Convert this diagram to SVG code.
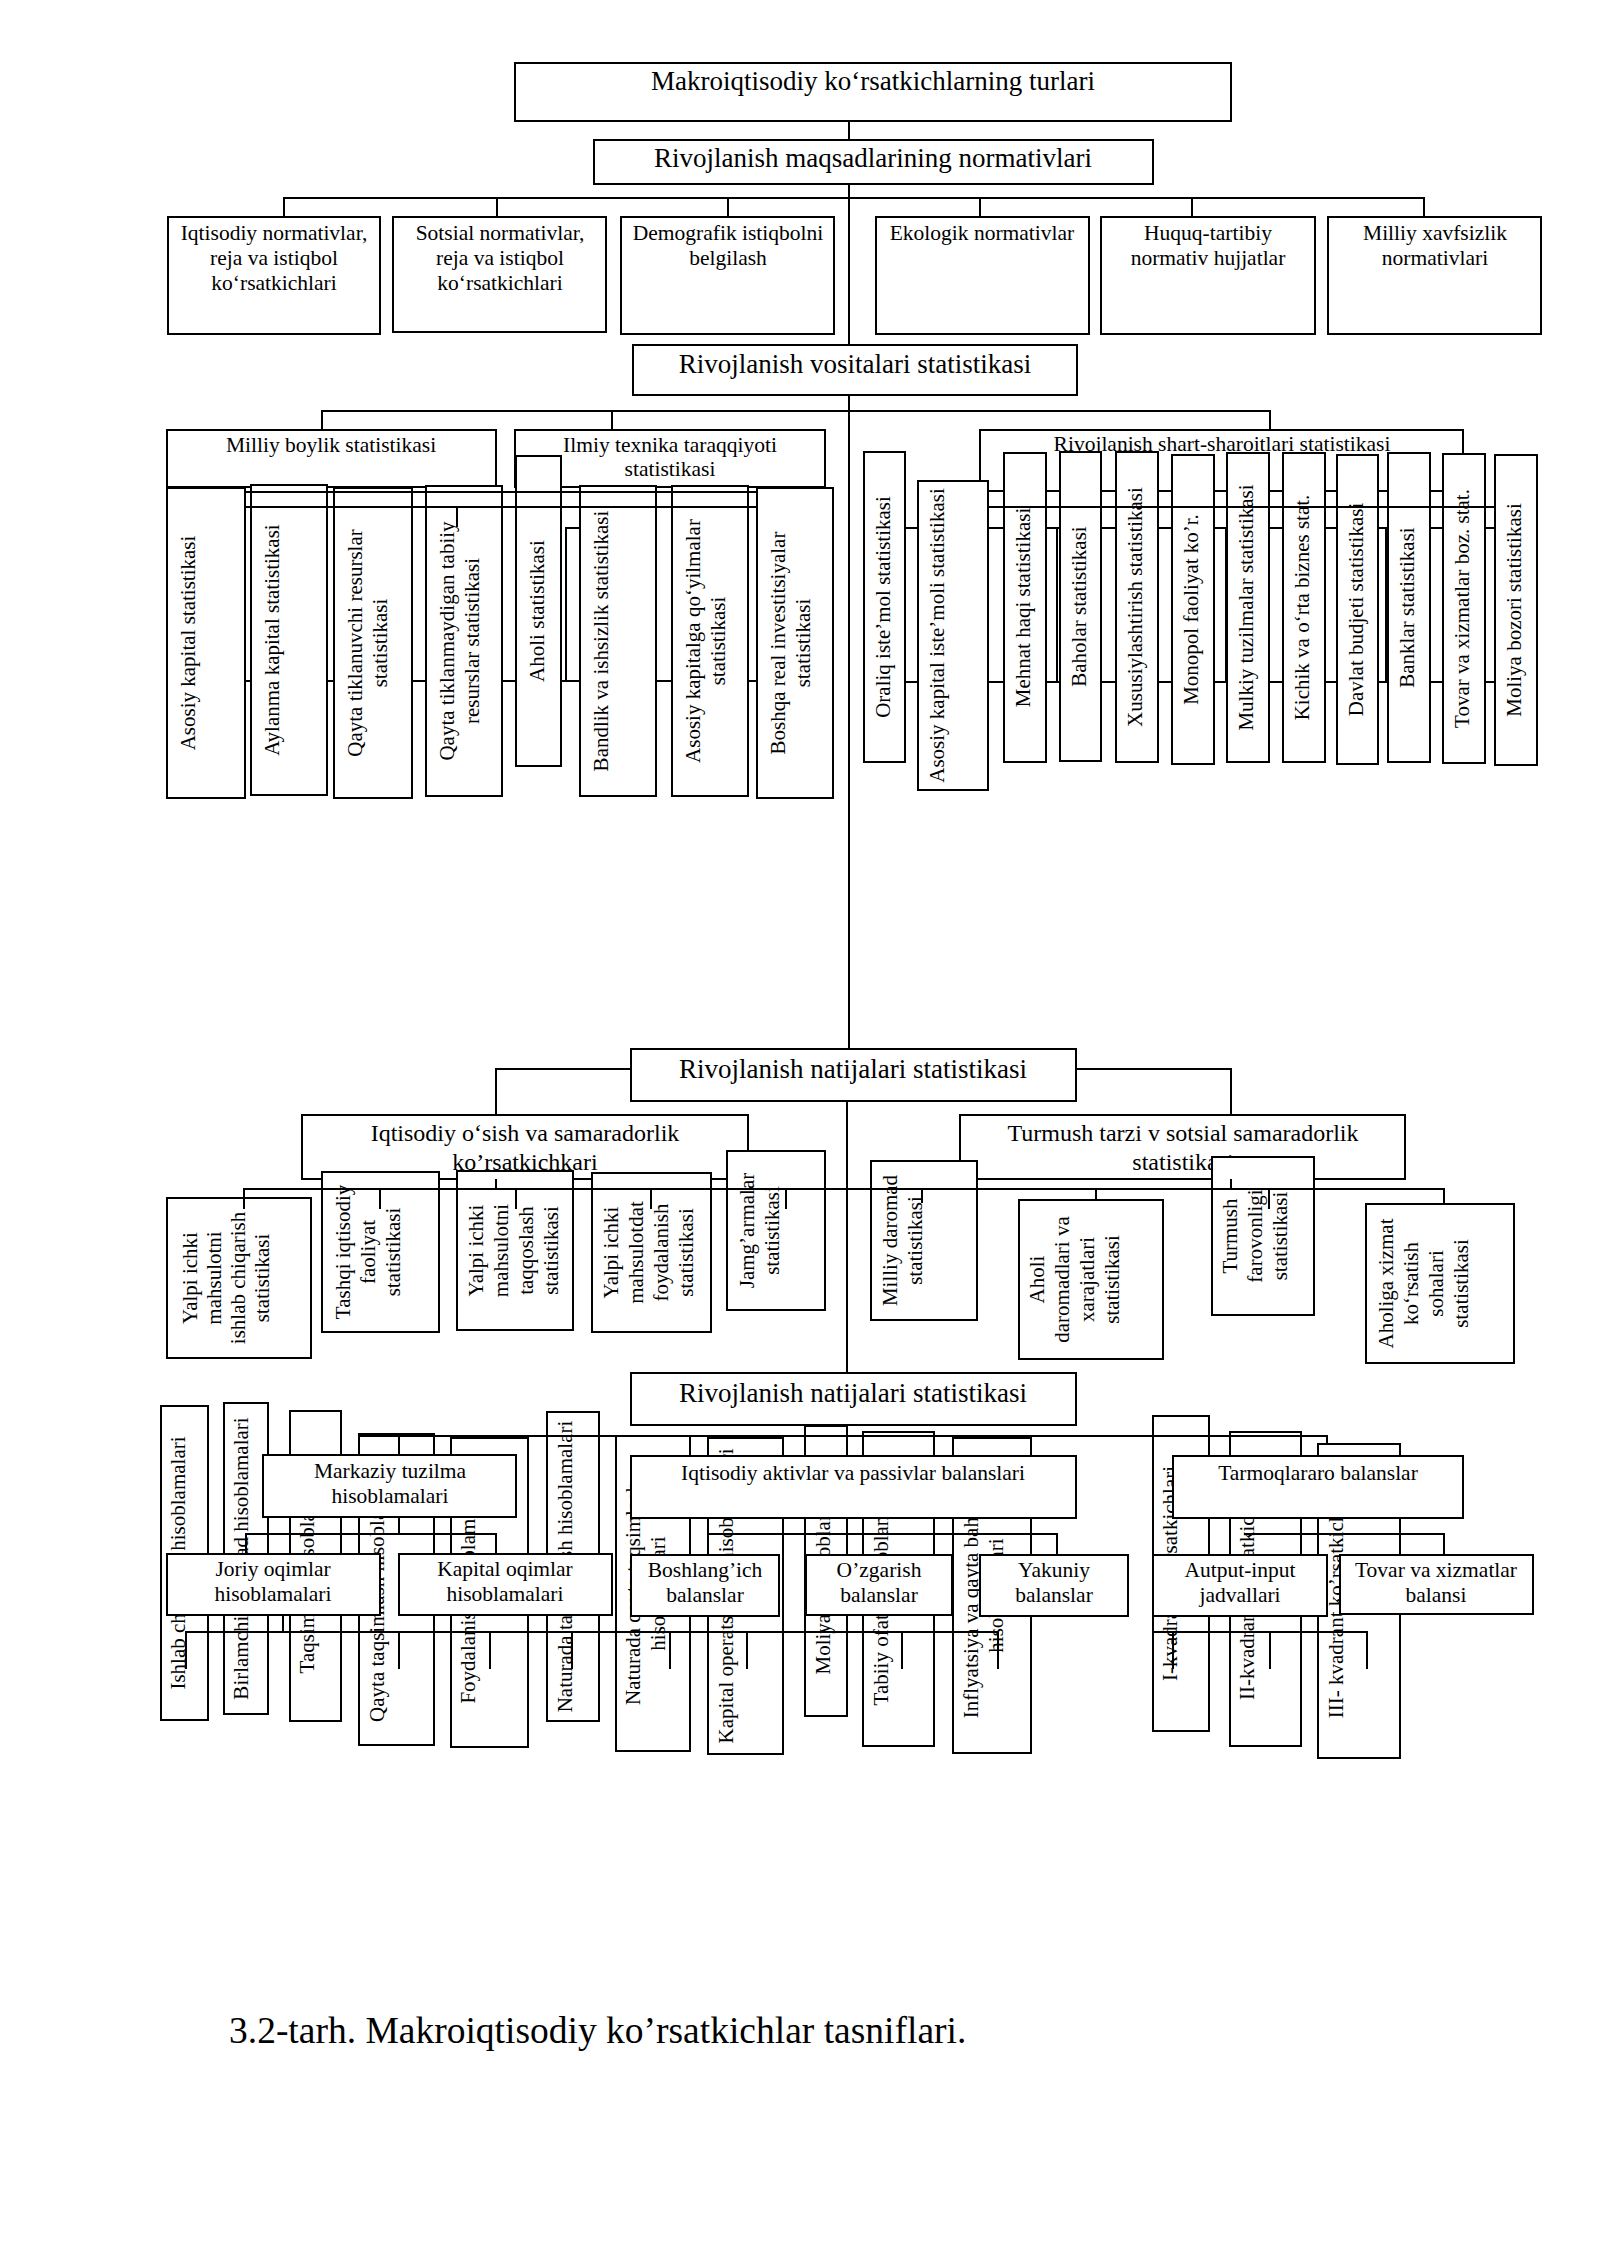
<svg xmlns="http://www.w3.org/2000/svg" width="1600" height="2262" viewBox="0 0 1600 2262">
<style>
text { font-family: "Liberation Serif", "Times New Roman", serif; fill: #000; }
.h1 { font-size: 27px; text-anchor: middle; }
.h2 { font-size: 24px; text-anchor: middle; }
.s { font-size: 21.5px; text-anchor: middle; }
.v { font-size: 21px; text-anchor: middle; }
.cap { font-size: 37.5px; }
.box { fill: #fff; stroke: #000; stroke-width: 2; }
.ln { fill: none; stroke: #000; stroke-width: 2; }
</style>
<rect x="0" y="0" width="1600" height="2262" fill="#fff"/>

<g id="connectors-back" class="ln">
  <path d="M849 121V140M849 184V345M284 217V198H1424V217M497 198V217M728 198V217M980 198V217M1192 198V217"/>
  <path d="M849 395V1049M322 430V411H1270V430M612 411V430"/>
  <path d="M245 681H757M566 681V528H580"/>
  <path d="M905 528H1495M905 682H1495M1057 528V682M1226 528V682M1386 528V682"/>
  <path d="M631 1069H496V1115M1076 1069H1231V1115M847 1101V1373M847 1425V1456"/>
</g>

<g id="n-top"><rect class="box" x="515" y="63" width="716" height="58"/><text class="h1" x="873" y="90">Makroiqtisodiy ko‘rsatkichlarning turlari</text></g>
<g id="n-maqsad"><rect class="box" x="594" y="140" width="559" height="44"/><text class="h1" x="873" y="167">Rivojlanish maqsadlarining normativlari</text></g>

<g id="n-iqt-norm"><rect class="box" x="168" y="217" width="212" height="117"/><text class="s" y="240"><tspan x="274">Iqtisodiy normativlar,</tspan><tspan x="274" y="265">reja va istiqbol</tspan><tspan x="274" y="290">ko‘rsatkichlari</tspan></text></g>
<g id="n-sots-norm"><rect class="box" x="393" y="217" width="213" height="115"/><text class="s" y="240"><tspan x="500">Sotsial normativlar,</tspan><tspan x="500" y="265">reja va istiqbol</tspan><tspan x="500" y="290">ko‘rsatkichlari</tspan></text></g>
<g id="n-demo"><rect class="box" x="621" y="217" width="213" height="117"/><text class="s" y="240"><tspan x="728">Demografik istiqbolni</tspan><tspan x="728" y="265">belgilash</tspan></text></g>
<g id="n-eko"><rect class="box" x="876" y="217" width="213" height="117"/><text class="s" x="982" y="240">Ekologik normativlar</text></g>
<g id="n-huquq"><rect class="box" x="1101" y="217" width="214" height="117"/><text class="s" y="240"><tspan x="1208">Huquq-tartibiy</tspan><tspan x="1208" y="265">normativ hujjatlar</tspan></text></g>
<g id="n-xavf"><rect class="box" x="1328" y="217" width="213" height="117"/><text class="s" y="240"><tspan x="1435">Milliy xavfsizlik</tspan><tspan x="1435" y="265">normativlari</tspan></text></g>

<g id="n-vosita"><rect class="box" x="633" y="345" width="444" height="50"/><text class="h1" x="855" y="373">Rivojlanish vositalari statistikasi</text></g>

<g id="n-milliy-boylik"><rect class="box" x="167" y="430" width="329" height="57"/><text class="s" x="331" y="452">Milliy boylik statistikasi</text></g>
<g id="n-ilmiy"><rect class="box" x="515" y="430" width="310" height="57"/><text class="s" y="452"><tspan x="670">Ilmiy texnika taraqqiyoti</tspan><tspan x="670" y="476">statistikasi</tspan></text></g>
<g id="n-shart"><rect class="box" x="980" y="430" width="483" height="61"/><text class="s" x="1222" y="451">Rivojlanish shart-sharoitlari statistikasi</text></g>

<g id="n-l1"><rect class="box" x="167" y="488" width="78" height="310"/><text class="v" transform="translate(195,643) rotate(-90)">Asosiy kapital statistikasi</text></g>
<g id="n-l2"><rect class="box" x="251" y="485" width="76" height="310"/><text class="v" transform="translate(279,640) rotate(-90)">Aylanma kapital statistikasi</text></g>
<g id="n-l3"><rect class="box" x="334" y="488" width="78" height="310"/><text class="v" transform="translate(362,643) rotate(-90)"><tspan x="0" y="0">Qayta tiklanuvchi resurslar</tspan><tspan x="0" y="25">statistikasi</tspan></text></g>
<g id="n-l4"><rect class="box" x="426" y="486" width="76" height="310"/><text class="v" transform="translate(454,641) rotate(-90)"><tspan x="0" y="0">Qayta tiklanmaydigan tabiiy</tspan><tspan x="0" y="25">resurslar statistikasi</tspan></text></g>
<g id="n-l5"><rect class="box" x="516" y="456" width="45" height="310"/><text class="v" transform="translate(544,611) rotate(-90)">Aholi statistikasi</text></g>
<g id="n-l6"><rect class="box" x="580" y="486" width="76" height="310"/><text class="v" transform="translate(608,641) rotate(-90)">Bandlik va ishsizlik statistikasi</text></g>
<g id="n-l7"><rect class="box" x="672" y="486" width="76" height="310"/><text class="v" transform="translate(700,641) rotate(-90)"><tspan x="0" y="0">Asosiy kapitalga qo‘yilmalar</tspan><tspan x="0" y="25">statistikasi</tspan></text></g>
<g id="n-l8"><rect class="box" x="757" y="488" width="76" height="310"/><text class="v" transform="translate(785,643) rotate(-90)"><tspan x="0" y="0">Boshqa real investitsiyalar</tspan><tspan x="0" y="25">statistikasi</tspan></text></g>

<g id="n-r1"><rect class="box" x="864" y="452" width="41" height="310"/><text class="v" transform="translate(890,607) rotate(-90)">Oraliq iste’mol statistikasi</text></g>
<g id="n-r2"><rect class="box" x="918" y="481" width="70" height="309"/><text class="v" transform="translate(944,635.5) rotate(-90)">Asosiy kapital iste’moli statistikasi</text></g>
<g id="n-r3"><rect class="box" x="1004" y="453" width="42" height="309"/><text class="v" transform="translate(1030,607.5) rotate(-90)">Mehnat haqi statistikasi</text></g>
<g id="n-r4"><rect class="box" x="1060" y="452" width="41" height="309"/><text class="v" transform="translate(1086,606.5) rotate(-90)">Baholar statistikasi</text></g>
<g id="n-r5"><rect class="box" x="1116" y="452" width="42" height="310"/><text class="v" transform="translate(1142,607) rotate(-90)">Xususiylashtirish statistikasi</text></g>
<g id="n-r6"><rect class="box" x="1172" y="455" width="42" height="309"/><text class="v" transform="translate(1198,609.5) rotate(-90)">Monopol faoliyat ko’r.</text></g>
<g id="n-r7"><rect class="box" x="1227" y="453" width="42" height="309"/><text class="v" transform="translate(1253,607.5) rotate(-90)">Mulkiy tuzilmalar statistikasi</text></g>
<g id="n-r8"><rect class="box" x="1283" y="453" width="42" height="309"/><text class="v" transform="translate(1309,607.5) rotate(-90)">Kichik va o‘rta biznes stat.</text></g>
<g id="n-r9"><rect class="box" x="1337" y="455" width="41" height="309"/><text class="v" transform="translate(1363,609.5) rotate(-90)">Davlat budjeti statistikasi</text></g>
<g id="n-r10"><rect class="box" x="1388" y="453" width="42" height="309"/><text class="v" transform="translate(1414,607.5) rotate(-90)">Banklar statistikasi</text></g>
<g id="n-r11"><rect class="box" x="1443" y="454" width="42" height="309"/><text class="v" transform="translate(1469,608.5) rotate(-90)">Tovar va xizmatlar boz. stat.</text></g>
<g id="n-r12"><rect class="box" x="1495" y="455" width="42" height="310"/><text class="v" transform="translate(1521,610) rotate(-90)">Moliya bozori statistikasi</text></g>

<g id="n-natija1"><rect class="box" x="631" y="1049" width="445" height="52"/><text class="h1" x="853" y="1078">Rivojlanish natijalari statistikasi</text></g>
<g id="n-osish"><rect class="box" x="302" y="1115" width="446" height="64"/><text class="h2" y="1141"><tspan x="525">Iqtisodiy o‘sish va samaradorlik</tspan><tspan x="525" y="1170">ko’rsatkichkari</tspan></text></g>
<g id="n-turmush"><rect class="box" x="960" y="1115" width="445" height="64"/><text class="h2" y="1141"><tspan x="1183">Turmush tarzi v sotsial samaradorlik</tspan><tspan x="1183" y="1170">statistikasi</tspan></text></g>

<g id="n-m1"><rect class="box" x="167" y="1198" width="144" height="160"/><text class="v" transform="translate(197,1278) rotate(-90)"><tspan x="0" y="0">Yalpi ichki</tspan><tspan x="0" y="24">mahsulotni</tspan><tspan x="0" y="48">ishlab chiqarish</tspan><tspan x="0" y="72">statistikasi</tspan></text></g>
<g id="n-m2"><rect class="box" x="322" y="1172" width="117" height="160"/><text class="v" transform="translate(350,1252) rotate(-90)"><tspan x="0" y="0">Tashqi iqtisodiy</tspan><tspan x="0" y="25">faoliyat</tspan><tspan x="0" y="50">statistikasi</tspan></text></g>
<g id="n-m3"><rect class="box" x="457" y="1171" width="116" height="159"/><text class="v" transform="translate(483,1250.5) rotate(-90)"><tspan x="0" y="0">Yalpi ichki</tspan><tspan x="0" y="25">mahsulotni</tspan><tspan x="0" y="50">taqqoslash</tspan><tspan x="0" y="75">statistikasi</tspan></text></g>
<g id="n-m4"><rect class="box" x="592" y="1173" width="119" height="159"/><text class="v" transform="translate(618,1252.5) rotate(-90)"><tspan x="0" y="0">Yalpi ichki</tspan><tspan x="0" y="25">mahsulotdat</tspan><tspan x="0" y="50">foydalanish</tspan><tspan x="0" y="75">statistikasi</tspan></text></g>
<g id="n-m5"><rect class="box" x="727" y="1151" width="98" height="159"/><text class="v" transform="translate(754,1230.5) rotate(-90)"><tspan x="0" y="0">Jamg’armalar</tspan><tspan x="0" y="25">statistikasi</tspan></text></g>
<g id="n-m6"><rect class="box" x="871" y="1161" width="106" height="159"/><text class="v" transform="translate(897,1240.5) rotate(-90)"><tspan x="0" y="0">Milliy daromad</tspan><tspan x="0" y="25">statistikasi</tspan></text></g>
<g id="n-m7"><rect class="box" x="1019" y="1200" width="144" height="159"/><text class="v" transform="translate(1044,1279.5) rotate(-90)"><tspan x="0" y="0">Aholi</tspan><tspan x="0" y="25">daromadlari va</tspan><tspan x="0" y="50">xarajatlari</tspan><tspan x="0" y="75">statistikasi</tspan></text></g>
<g id="n-m8"><rect class="box" x="1212" y="1157" width="102" height="158"/><text class="v" transform="translate(1237,1236) rotate(-90)"><tspan x="0" y="0">Turmush</tspan><tspan x="0" y="25">farovonligi</tspan><tspan x="0" y="50">statistikasi</tspan></text></g>
<g id="n-m9"><rect class="box" x="1366" y="1204" width="148" height="159"/><text class="v" transform="translate(1393,1283.5) rotate(-90)"><tspan x="0" y="0">Aholiga xizmat</tspan><tspan x="0" y="25">ko‘rsatish</tspan><tspan x="0" y="50">sohalari</tspan><tspan x="0" y="75">statistikasi</tspan></text></g>

<g id="n-natija2"><rect class="box" x="631" y="1373" width="445" height="52"/><text class="h1" x="853" y="1402">Rivojlanish natijalari statistikasi</text></g>

<g id="n-b1"><rect class="box" x="161" y="1406" width="47" height="314"/><text class="v" transform="translate(185,1563) rotate(-90)">Ishlab chiqarish hisoblamalari</text></g>
<g id="n-b2"><rect class="box" x="224" y="1403" width="44" height="311"/><text class="v" transform="translate(248,1558.5) rotate(-90)">Birlamchi daromad hisoblamalari</text></g>
<g id="n-b3"><rect class="box" x="290" y="1411" width="51" height="310"/><text class="v" transform="translate(314,1566) rotate(-90)">Taqsimlash hisoblamalari</text></g>
<g id="n-b4"><rect class="box" x="359" y="1434" width="75" height="311"/><text class="v" transform="translate(384,1589.5) rotate(-90)">Qayta taqsimlash hisoblamalari</text></g>
<g id="n-b5"><rect class="box" x="451" y="1438" width="77" height="309"/><text class="v" transform="translate(475,1592.5) rotate(-90)">Foydalanish hisoblamalari</text></g>
<g id="n-b6"><rect class="box" x="547" y="1412" width="52" height="309"/><text class="v" transform="translate(572,1566.5) rotate(-90)">Naturada taqsimlash hisoblamalari</text></g>
<g id="n-b7"><rect class="box" x="616" y="1436" width="74" height="315"/><text class="v" transform="translate(640,1593.5) rotate(-90)"><tspan x="0" y="0">Naturada qayta taqsimlash</tspan><tspan x="0" y="25">hisoblamalari</tspan></text></g>
<g id="n-b8"><rect class="box" x="708" y="1438" width="75" height="316"/><text class="v" transform="translate(733,1596) rotate(-90)">Kapital operatsiyalar hisoblamalari</text></g>
<g id="n-b9"><rect class="box" x="805" y="1426" width="42" height="290"/><text class="v" transform="translate(830,1571) rotate(-90)">Moliyaviy hisoblamalari</text></g>
<g id="n-b10"><rect class="box" x="863" y="1432" width="71" height="314"/><text class="v" transform="translate(888,1589) rotate(-90)">Tabiiy ofatlar hisoblamalari</text></g>
<g id="n-b11"><rect class="box" x="953" y="1438" width="78" height="315"/><text class="v" transform="translate(978,1595.5) rotate(-90)"><tspan x="0" y="0">Inflyatsiya va qayta baholash</tspan><tspan x="0" y="25">hisoblamalari</tspan></text></g>
<g id="n-b12"><rect class="box" x="1153" y="1416" width="56" height="315"/><text class="v" transform="translate(1177,1573.5) rotate(-90)">I-kvadrant ko’rsatkichlari</text></g>
<g id="n-b13"><rect class="box" x="1230" y="1432" width="71" height="314"/><text class="v" transform="translate(1254,1589) rotate(-90)">II-kvadrant ko’rsatkichlari</text></g>
<g id="n-b14"><rect class="box" x="1318" y="1444" width="82" height="314"/><text class="v" transform="translate(1343,1601) rotate(-90)">III- kvadrant ko’rsatkichlari</text></g>

<g id="connectors-front" class="ln">
  <path d="M245 492H757M245 507H757M457 507V527"/>
  <path d="M988 507H1495"/>
  <path d="M244 1209V1189H1444V1204M380 1189V1209M496 1179V1189M516 1189V1209M651 1189V1209M786 1189V1209M922 1189V1203M1096 1189V1200M1231 1179V1189M1269 1189V1209"/>
  <path d="M359 1436H1327V1444M399 1436V1534"/>
  <path d="M246 1553V1534H496V1553M708 1534H1057V1555M1244 1534H1444V1555"/>
  <path d="M186 1669V1632H998M1153 1632H1367V1669M283 1615V1632"/>
  <path d="M399 1632V1669M490 1632V1669M572 1632V1669M670 1632V1669M747 1632V1669M902 1632V1669M998 1632V1669M1173 1632V1669M1270 1632V1669"/>
</g>

<g id="n-markaziy"><rect class="box" x="263" y="1455" width="253" height="62"/><text class="s" y="1478"><tspan x="390">Markaziy tuzilma</tspan><tspan x="390" y="1503">hisoblamalari</tspan></text></g>
<g id="n-aktiv"><rect class="box" x="631" y="1456" width="445" height="62"/><text class="s" x="853" y="1480">Iqtisodiy aktivlar va passivlar balanslari</text></g>
<g id="n-tarmoq"><rect class="box" x="1173" y="1456" width="290" height="62"/><text class="s" x="1318" y="1480">Tarmoqlararo balanslar</text></g>
<g id="n-joriy"><rect class="box" x="167" y="1554" width="213" height="61"/><text class="s" y="1576"><tspan x="273">Joriy oqimlar</tspan><tspan x="273" y="1601">hisoblamalari</tspan></text></g>
<g id="n-kapital-oq"><rect class="box" x="399" y="1554" width="213" height="61"/><text class="s" y="1576"><tspan x="505">Kapital oqimlar</tspan><tspan x="505" y="1601">hisoblamalari</tspan></text></g>
<g id="n-boshlang"><rect class="box" x="631" y="1555" width="148" height="61"/><text class="s" y="1577"><tspan x="705">Boshlang’ich</tspan><tspan x="705" y="1602">balanslar</tspan></text></g>
<g id="n-ozgarish"><rect class="box" x="806" y="1555" width="146" height="60"/><text class="s" y="1577"><tspan x="879">O’zgarish</tspan><tspan x="879" y="1602">balanslar</tspan></text></g>
<g id="n-yakuniy"><rect class="box" x="980" y="1555" width="148" height="61"/><text class="s" y="1577"><tspan x="1054">Yakuniy</tspan><tspan x="1054" y="1602">balanslar</tspan></text></g>
<g id="n-autput"><rect class="box" x="1153" y="1555" width="174" height="61"/><text class="s" y="1577"><tspan x="1240">Autput-input</tspan><tspan x="1240" y="1602">jadvallari</tspan></text></g>
<g id="n-tovar"><rect class="box" x="1340" y="1555" width="193" height="59"/><text class="s" y="1577"><tspan x="1436">Tovar va xizmatlar</tspan><tspan x="1436" y="1602">balansi</tspan></text></g>

<g id="caption"><text class="cap" x="229" y="2043">3.2-tarh. Makroiqtisodiy ko’rsatkichlar tasniflari.</text></g>
</svg>
